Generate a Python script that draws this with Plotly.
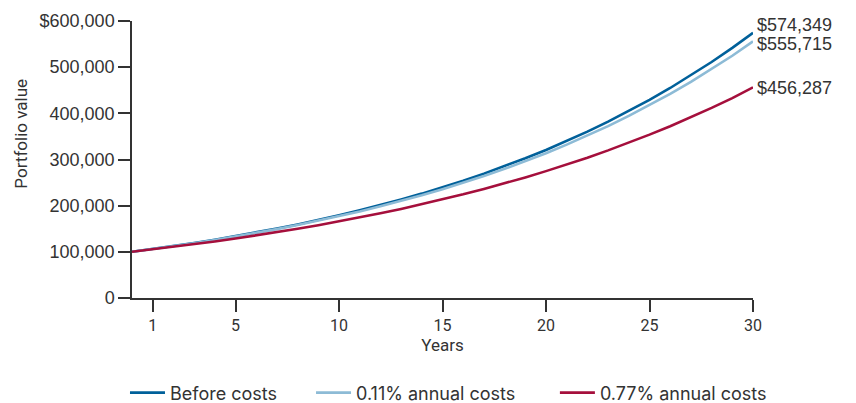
import plotly.graph_objects as go

years = list(range(0, 31))

before_costs = [
    100000, 106000, 112400, 119100, 126200, 133800, 141900, 150400, 159400, 168900,
    179100, 189800, 201200, 213300, 226100, 239700, 254000, 269300, 285400, 302600,
    320700, 340000, 360400, 382000, 404900, 429200, 454900, 482200, 511200, 541800,
    574349,
]
costs_011 = [
    100000, 105900, 112100, 118700, 125700, 133100, 140900, 149200, 158000, 167300,
    177100, 187500, 198600, 210200, 222600, 235700, 249600, 264300, 279800, 296300,
    313700, 332100, 351700, 372400, 394300, 417500, 442000, 468000, 495600, 524700,
    555715,
]
costs_077 = [
    100000, 105200, 110600, 116400, 122400, 128800, 135400, 142400, 149800, 157600,
    165800, 174400, 183400, 192900, 202900, 213400, 224500, 236100, 248400, 261200,
    274800, 289000, 304000, 319800, 336400, 353800, 372100, 391400, 411700, 433100,
    456287,
]

series_names = ["Before costs", "0.11% annual costs", "0.77% annual costs"]
series_values = [before_costs, costs_011, costs_077]
series_colors = ["#00609A", "#8DBBD6", "#A50F3C"]
end_labels = ["$574,349", "$555,715", "$456,287"]
end_label_shift = [8, -3, -1]
legend_ids = ["legend", "legend2", "legend3"]
legend_x = [-0.0113, 0.2883, 0.681]

y_tick_vals = [0, 100000, 200000, 300000, 400000, 500000, 600000]
y_tick_text = ["0", "100,000", "200,000", "300,000", "400,000", "500,000", "$600,000"]
x_tick_vals = [1, 5, 10, 15, 20, 25, 30]

main_font = "Roboto, Arial, sans-serif"
legend_font = "Inter, Roboto, Arial, sans-serif"
num_font = "Liberation Sans, Arial, sans-serif"
text_color = "#333333"
axis_color = "#333333"

fig = go.Figure()
for name, vals, color, lg in zip(series_names, series_values, series_colors, legend_ids):
    fig.add_trace(go.Scatter(
        x=years, y=vals, mode="lines", name=name, legend=lg,
        line=dict(color=color, width=2.6),
    ))

for vals, label, shift in zip(series_values, end_labels, end_label_shift):
    fig.add_annotation(
        x=years[-1], y=vals[-1], text=label, showarrow=False,
        xanchor="left", yanchor="middle", xshift=2, yshift=shift,
        font=dict(family=num_font, size=18, color=text_color),
    )

# y-axis title placed as a rotated annotation
fig.add_annotation(
    xref="paper", yref="paper", x=-0.178, y=0.595, text="Portfolio value",
    textangle=-90, showarrow=False, xanchor="center", yanchor="middle",
    font=dict(family=main_font, size=17, color=text_color),
)

legend_layout = {}
for lg, lx in zip(legend_ids, legend_x):
    legend_layout[lg] = dict(
        x=lx, xanchor="left", xref="paper",
        y=0.025, yanchor="middle", yref="container",
        orientation="h", itemwidth=35, bgcolor="rgba(0,0,0,0)",
        font=dict(family=legend_font, size=18, color=text_color),
    )

fig.update_layout(
    width=856, height=403,
    margin=dict(l=132, r=103, t=21, b=105),
    paper_bgcolor="white", plot_bgcolor="white",
    font=dict(family=main_font, size=17, color=text_color),
    showlegend=True,
    xaxis=dict(
        range=[0, 30], tickvals=x_tick_vals, ticks="outside", ticklen=12,
        tickwidth=1.5, tickcolor=axis_color, showline=True, linecolor=axis_color,
        linewidth=1.5, showgrid=False, zeroline=False,
        title=dict(text="Years", standoff=2, font=dict(family=main_font, size=17)),
        tickfont=dict(family=main_font, size=16),
    ),
    yaxis=dict(
        range=[0, 600000], tickvals=y_tick_vals, ticktext=y_tick_text,
        ticks="outside", ticklen=12, tickwidth=1.5, tickcolor=axis_color,
        showline=True, linecolor=axis_color, linewidth=1.5,
        showgrid=False, zeroline=False, ticklabelstandoff=0,
        tickfont=dict(family=num_font, size=18),
    ),
    **legend_layout,
)

fig.write_html("out.html")
